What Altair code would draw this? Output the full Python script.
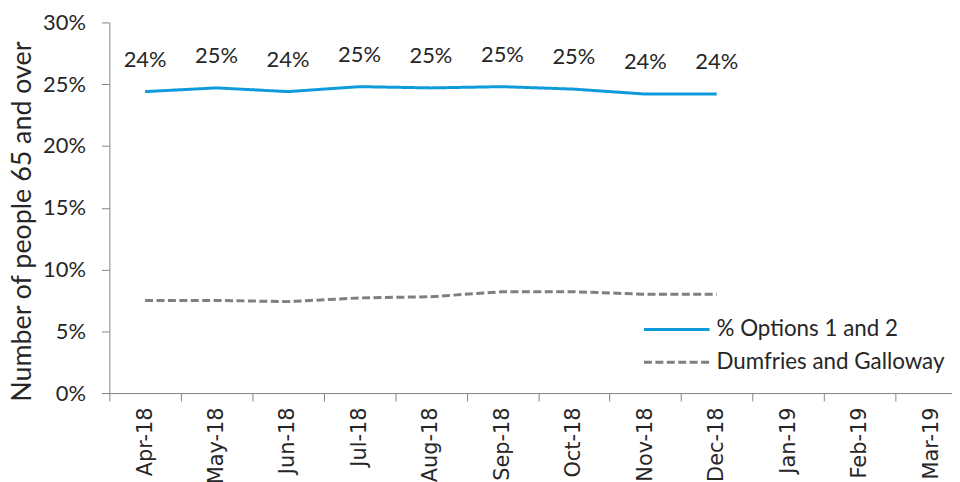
import altair as alt
import pandas as pd

months = ["Apr-18", "May-18", "Jun-18", "Jul-18", "Aug-18", "Sep-18",
          "Oct-18", "Nov-18", "Dec-18", "Jan-19", "Feb-19", "Mar-19"]
data_months = months[:9]
options_pct = [24.4, 24.7, 24.4, 24.8, 24.7, 24.8, 24.6, 24.2, 24.2]
dg_pct = [7.5, 7.5, 7.4, 7.7, 7.8, 8.2, 8.2, 8.0, 8.0]
series_names = ["% Options 1 and 2", "Dumfries and Galloway"]
y_ticks = [0, 0.05, 0.10, 0.15, 0.20, 0.25, 0.30]

rows = []
for m, v in zip(data_months, options_pct):
    rows.append({"month": m, "series": series_names[0], "value": v / 100})
for m, v in zip(data_months, dg_pct):
    rows.append({"month": m, "series": series_names[1], "value": v / 100})
df = pd.DataFrame(rows)

BLUE = "#0E9BDB"
GRAY = "#7F7F7F"
TEXT = "#262626"
AXIS = "#868686"

x_enc = alt.X(
    "month:N",
    sort=months,
    scale=alt.Scale(type="band", domain=months, range=[0, 863],
                    paddingInner=0, paddingOuter=0),
    axis=alt.Axis(title=None, tickBand="extent", labelAngle=270,
                  labelAlign="right", labelBaseline="middle",
                  tickSize=8, labelPadding=6, grid=False,
                  domainColor=AXIS, tickColor=AXIS,
                  labelFont="DejaVu Sans", labelFontSize=21,
                  labelColor=TEXT, labelOverlap=False),
)
y_enc = alt.Y(
    "value:Q",
    scale=alt.Scale(domain=[0, 0.3]),
    axis=alt.Axis(values=y_ticks, format=".0%", grid=False,
                  domainColor=AXIS, tickColor=AXIS, tickSize=8,
                  labelPadding=16, labelFont="Lato", labelFontSize=22,
                  labelColor=TEXT,
                  title="Number of people 65 and over",
                  titleFont="Lato", titleFontSize=27,
                  titleFontWeight="normal", titleColor=TEXT,
                  titleX=-87, titleY=200, titleBaseline="middle"),
)

legend = alt.Legend(
    title=None, orient="none", legendX=553, legendY=291,
    symbolType="M-2,0H2", symbolSize=1089, symbolStrokeWidth=3,
    labelFont="Lato", labelFontSize=22.5, labelColor=TEXT, labelLimit=0,
    rowPadding=3, padding=0, labelOffset=22,
)

lines = alt.Chart(df).mark_line(strokeWidth=3).encode(
    x=x_enc,
    y=y_enc,
    color=alt.Color("series:N",
                    scale=alt.Scale(domain=series_names, range=[BLUE, GRAY]),
                    legend=legend),
    strokeDash=alt.StrokeDash("series:N",
                              scale=alt.Scale(domain=series_names,
                                              range=[[1, 0], [8, 3.5]]),
                              legend=legend),
)

labels = alt.Chart(df[df["series"] == series_names[0]]).mark_text(
    dy=-32, font="Lato", fontSize=22, color=TEXT
).encode(
    x=x_enc,
    y=y_enc,
    text=alt.Text("value:Q", format=".0%"),
)

chart = alt.layer(lines, labels).properties(
    width=848,
    height=373,
    autosize=alt.AutoSizeParams(type="none"),
    padding={"left": 102, "top": 13, "right": 0, "bottom": 88},
    background="white",
).configure_view(stroke=None)

chart.save("out.html", embed_options={"renderer": "svg", "actions": False})
